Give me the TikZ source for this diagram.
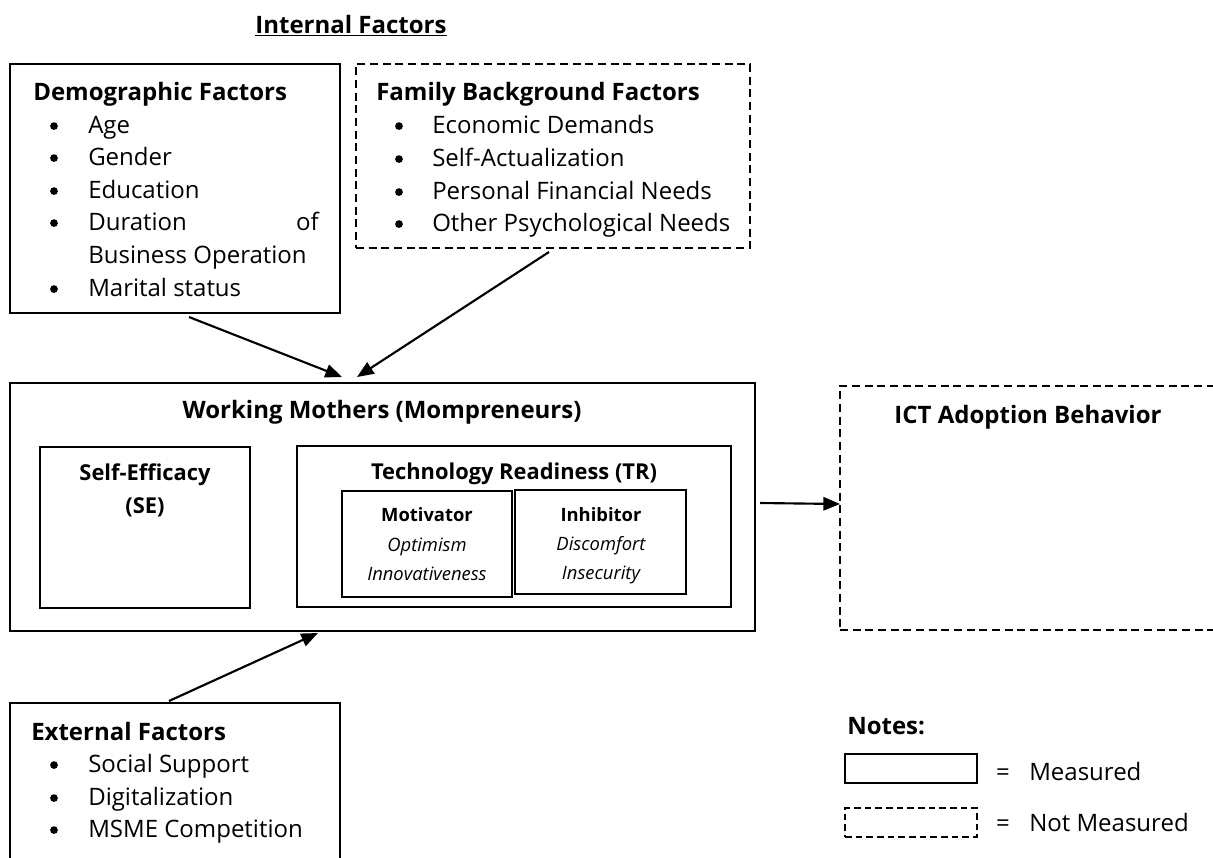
\documentclass[tikz,border=0pt]{standalone}
\usepackage{fontspec}
\setmainfont{Open Sans}
\usetikzlibrary{arrows.meta,fit}
\tikzset{
  box/.style={draw, line width=1.5pt, inner sep=0pt},
  dbox/.style={box, dash pattern=on 6pt off 3.5pt},
  arr/.style={line width=1.6pt, -{Triangle[length=12.5pt,width=10pt]}},
  big/.style={font=\fontsize{18}{22}\selectfont, inner sep=0pt},
  bigb/.style={font=\bfseries\fontsize{18}{22}\selectfont, inner sep=0pt},
  smlb/.style={font=\bfseries\fontsize{16.4}{20}\selectfont, inner sep=0pt, anchor=base},
  tinyb/.style={font=\bfseries\fontsize{13.8}{17}\selectfont, inner sep=0pt, anchor=base},
  tinyi/.style={font=\itshape\fontsize{13.8}{17}\selectfont, inner sep=0pt, anchor=base},
  item/.style={big, anchor=base west},
  bul/.style={circle, fill, inner sep=0pt, minimum size=5.8pt, yshift=5.2pt},
}
\begin{document}
\begin{tikzpicture}[x=0.75pt,y=-0.75pt]
\useasboundingbox (0,0) rectangle (1213,857);
\clip (0,0) rectangle (1213,857);

% title
\node[bigb, anchor=base] (title) at (351,33) {\underline{Internal Factors}};

% Demographic box
\node[box, fit={(10,64)(340,313)}] (demo) {};
\node[bigb, anchor=base west] (demoh) at (33,100) {Demographic Factors};
\node[bul] (db1) at (54,133) {};
\node[item] (dt1) at (88,133) {Age};
\node[bul] (db2) at (54,165) {};
\node[item] (dt2) at (88,165) {Gender};
\node[bul] (db3) at (54,198) {};
\node[item] (dt3) at (88,198) {Education};
\node[bul] (db4) at (54,230) {};
\node[item] (dt4) at (88,230) {Duration};
\node[big, anchor=base east] (dt4b) at (319,230) {of};
\node[item] (dt5) at (88,263) {Business Operation};
\node[bul] (db6) at (54,296) {};
\node[item] (dt6) at (88,296) {Marital status};

% Family box
\node[dbox, fit={(356,64)(750,248)}] (fam) {};
\node[bigb, anchor=base west] (famh) at (376,100) {Family Background Factors};
\node[bul] (fb1) at (399,133) {};
\node[item] (ft1) at (432,133) {Economic Demands};
\node[bul] (fb2) at (399,166) {};
\node[item] (ft2) at (432,166) {Self-Actualization};
\node[bul] (fb3) at (399,199) {};
\node[item] (ft3) at (432,199) {Personal Financial Needs};
\node[bul] (fb4) at (399,231) {};
\node[item] (ft4) at (432,231) {Other Psychological Needs};

% Working mothers
\node[box, fit={(10,383)(755,631)}] (wm) {};
\node[bigb, anchor=base] (wmh) at (382,418) {Working Mothers (Mompreneurs)};
\node[box, fit={(40,447)(250,608)}] (se) {};
\node[smlb] (seh1) at (145,480) {Self-Efficacy};
\node[smlb] (seh2) at (145,513) {(SE)};
\node[box, fit={(297,446)(731,607)}] (tr) {};
\node[smlb] (trh) at (514,479) {Technology Readiness (TR)};
\node[box, fit={(342,491)(512,597)}] (mot) {};
\node[tinyb] (moth) at (427,521) {Motivator};
\node[tinyi] (mot1) at (427,551) {Optimism};
\node[tinyi] (mot2) at (427,580) {Innovativeness};
\node[box, fit={(515,490)(686,594)}] (inh) {};
\node[tinyb] (inhh) at (601,521) {Inhibitor};
\node[tinyi] (inh1) at (601,550) {Discomfort};
\node[tinyi] (inh2) at (601,579) {Insecurity};

% ICT
\node[dbox, fit={(840,386)(1222,630)}] (ict) {};
\node[bigb, anchor=base] (icth) at (1028,423) {ICT Adoption Behavior};

% External
\node[box, fit={(10,703)(340,875)}] (ext) {};
\node[bigb, anchor=base west] (exth) at (31,740) {External Factors};
\node[bul] (eb1) at (54,772) {};
\node[item] (et1) at (88,772) {Social Support};
\node[bul] (eb2) at (54,805) {};
\node[item] (et2) at (88,805) {Digitalization};
\node[bul] (eb3) at (54,837) {};
\node[item] (et3) at (88,837) {MSME Competition};

% Notes
\node[bigb, anchor=base west] (notes) at (847,734) {Notes:};
\node[box, fit={(845,754)(977,783)}] (nsol) {};
\node[big, anchor=base] (eq1) at (1003,780) {=};
\node[item] (nm1) at (1029,780) {Measured};
\node[dbox, dash pattern=on 5pt off 3pt, fit={(845,808)(977,837)}] (ndash) {};
\node[big, anchor=base] (eq2) at (1003,831) {=};
\node[item] (nm2) at (1029,831) {Not Measured};

% arrows
\coordinate (a1s) at (189,317);
\coordinate (a1e) at (342,377);
\coordinate (a2s) at (549,252);
\coordinate (a2e) at (357,377);
\coordinate (a3s) at (760,503);
\coordinate (a3e) at (840,504);
\coordinate (a4s) at (169,701);
\coordinate (a4e) at (318,633);
\draw[arr] (a1s) -- (a1e);
\draw[arr] (a2s) -- (a2e);
\draw[arr] (a3s) -- (a3e);
\draw[arr] (a4s) -- (a4e);
\end{tikzpicture}
\end{document}
